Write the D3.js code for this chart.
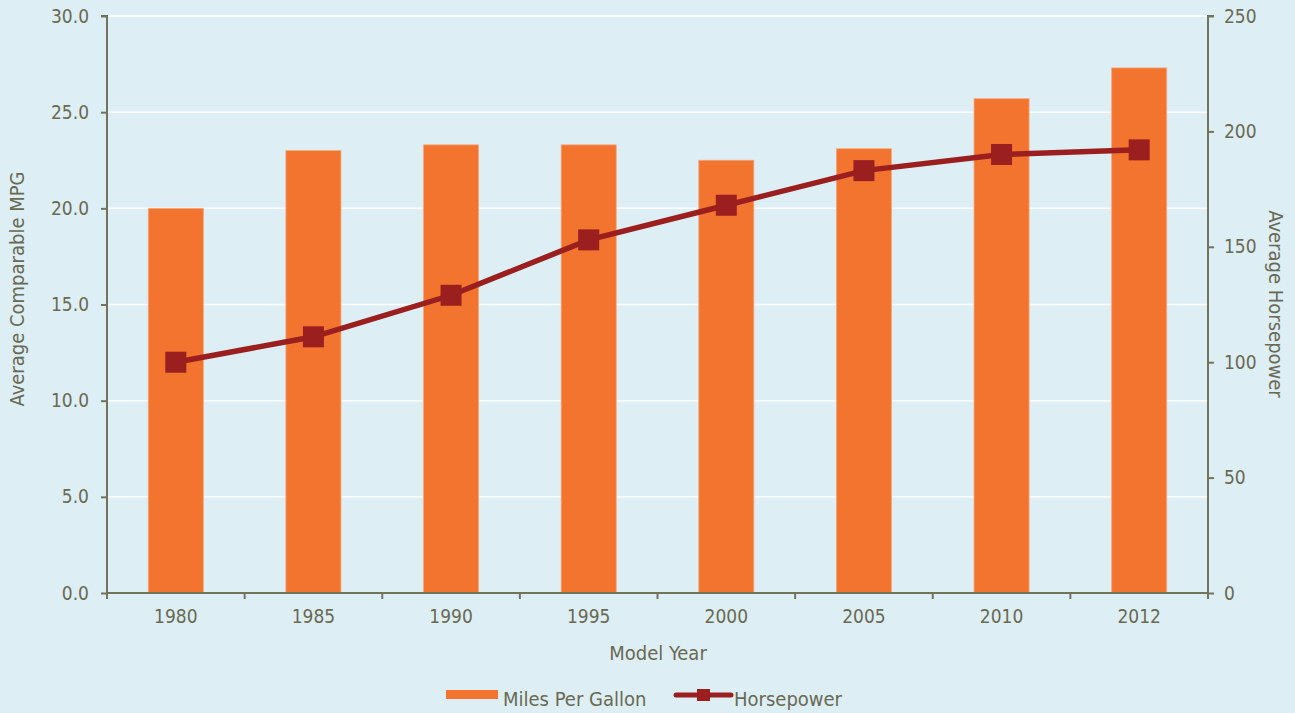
<!DOCTYPE html>
<html lang="en">
<head>
<meta charset="UTF-8">
<title>MPG and Horsepower</title>
<style>
    body { margin: 0; background: #ddeff5; }
    svg { display: block; }
    text { font-family: "Liberation Sans Narrow", "DejaVu Sans Condensed", "Roboto", sans-serif; fill: #6a6953; }
</style>
</head>
<body>
<svg id="chart" width="1295" height="713"></svg>
<script src="https://d3js.org/d3.v7.min.js"></script>
<script>

// data
var years = ["1980", "1985", "1990", "1995", "2000", "2005", "2010", "2012"];
var mpg = [20.0, 23.0, 23.3, 23.3, 22.5, 23.1, 25.7, 27.3];
var horsepower = [100, 111, 129, 153, 168, 183, 190, 192];
var mpgTicks = [0, 5, 10, 15, 20, 25, 30];
var hpTicks = [0, 50, 100, 150, 200, 250];

var svg = d3.select("#chart"),
    margin = {left: 107, right: 1208, top: 16, bottom: 593},
    axisColor = "#73735c",
    barColor = "#f3742e",
    lineColor = "#9b1f1f";

var x = d3.scaleBand().domain(years).range([margin.left, margin.right]).paddingInner(0.6).paddingOuter(0.3),
    yL = d3.scaleLinear().domain([0, 30]).range([margin.bottom, margin.top]),
    yR = d3.scaleLinear().domain([0, 250]).range([margin.bottom, margin.top]);

// band edges for x ticks
var xEdge = d3.scaleLinear().domain([0, years.length]).range([margin.left, margin.right]);

// gridlines
svg.append("g")
    .selectAll("line")
    .data(mpgTicks.slice(1))
    .join("line")
    .attr("x1", margin.left).attr("x2", margin.right)
    .attr("y1", d => yL(d)).attr("y2", d => yL(d))
    .attr("stroke", "#ffffff")
    .attr("stroke-width", 1.5);

// bars
svg.append("g")
    .selectAll("rect")
    .data(years)
    .join("rect")
    .attr("x", d => x(d))
    .attr("width", x.bandwidth())
    .attr("y", (d, i) => yL(mpg[i]))
    .attr("height", (d, i) => yL(0) - yL(mpg[i]))
    .attr("fill", barColor)
    .attr("stroke", "#f7a67c")
    .attr("stroke-width", 0.8);

// left axis
var leftAxis = svg.append("g")
    .attr("transform", `translate(${margin.left},0)`)
    .call(d3.axisLeft(yL).tickValues(mpgTicks).tickFormat(d3.format(".1f")).tickSize(6).tickPadding(12));

// right axis
var rightAxis = svg.append("g")
    .attr("transform", `translate(${margin.right},0)`)
    .call(d3.axisRight(yR).tickValues(hpTicks).tickSize(6).tickPadding(10));

// bottom axis
var bottomAxis = svg.append("g")
    .attr("transform", `translate(0,${margin.bottom})`)
    .call(d3.axisBottom(x).tickSize(0).tickPadding(17));
bottomAxis.selectAll(".edgeTick")
    .data(d3.range(years.length + 1))
    .join("line")
    .attr("class", "edgeTick")
    .attr("x1", d => xEdge(d)).attr("x2", d => xEdge(d))
    .attr("y1", 0).attr("y2", 6)
    .attr("stroke", axisColor)
    .attr("stroke-width", 2);

[leftAxis, rightAxis, bottomAxis].forEach(g => {
    g.select(".domain").attr("stroke", axisColor).attr("stroke-width", 2);
    g.selectAll(".tick line").attr("stroke", axisColor).attr("stroke-width", 2);
    g.selectAll(".tick text").attr("fill", "#6a6953").style("font-size", "19px")
        .style("font-family", '"Liberation Sans Narrow", "DejaVu Sans Condensed", sans-serif');
});
bottomAxis.select(".domain").attr("d", `M${margin.left},0H${margin.right}`);
leftAxis.select(".domain").attr("d", `M-6,${margin.top}H0V${margin.bottom}`);
rightAxis.select(".domain").attr("d", `M6,${margin.top}H0V${margin.bottom}`);

// horsepower line
var line = d3.line()
    .x((d, i) => x(years[i]) + x.bandwidth() / 2)
    .y(d => yR(d));

svg.append("path")
    .datum(horsepower)
    .attr("d", line)
    .attr("fill", "none")
    .attr("stroke", lineColor)
    .attr("stroke-width", 5.5);

var mk = 21;
svg.append("g")
    .selectAll("rect")
    .data(horsepower)
    .join("rect")
    .attr("x", (d, i) => x(years[i]) + x.bandwidth() / 2 - mk / 2)
    .attr("y", d => yR(d) - mk / 2)
    .attr("width", mk).attr("height", mk)
    .attr("fill", lineColor);

// axis titles
svg.append("text")
    .attr("transform", "translate(24,289) rotate(-90)")
    .attr("text-anchor", "middle")
    .style("font-size", "20px")
    .text("Average Comparable MPG");

svg.append("text")
    .attr("transform", "translate(1269,304) rotate(90)")
    .attr("text-anchor", "middle")
    .style("font-size", "20px")
    .text("Average Horsepower");

svg.append("text")
    .attr("x", 658).attr("y", 660)
    .attr("text-anchor", "middle")
    .style("font-size", "20px")
    .text("Model Year");

// legend
var legend = svg.append("g");
legend.append("rect")
    .attr("x", 446).attr("y", 690).attr("width", 52).attr("height", 9)
    .attr("fill", barColor);
legend.append("text")
    .attr("x", 503).attr("y", 706)
    .style("font-size", "20px")
    .text("Miles Per Gallon");
legend.append("line")
    .attr("x1", 676).attr("x2", 731).attr("y1", 695).attr("y2", 695)
    .attr("stroke", lineColor).attr("stroke-width", 5)
    .attr("stroke-linecap", "round");
legend.append("rect")
    .attr("x", 697).attr("y", 689).attr("width", 13).attr("height", 12)
    .attr("fill", lineColor);
legend.append("text")
    .attr("x", 734).attr("y", 706)
    .style("font-size", "20px")
    .text("Horsepower");

</script>
</body>
</html>
